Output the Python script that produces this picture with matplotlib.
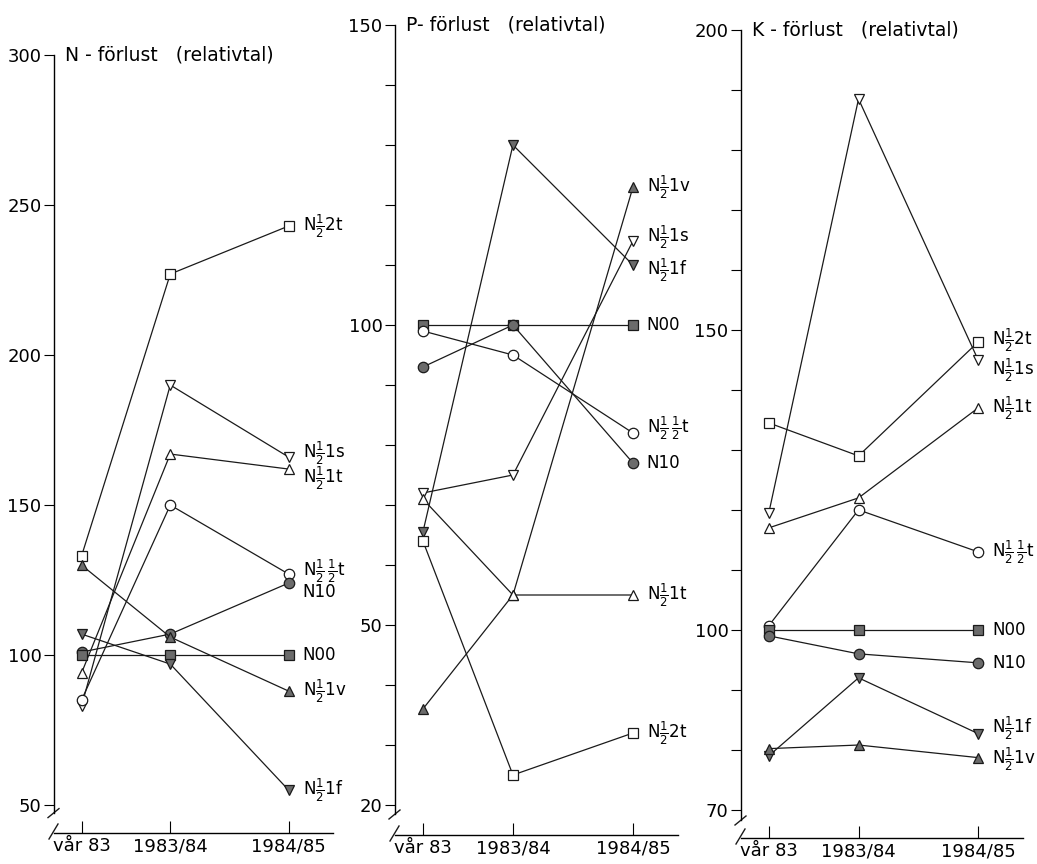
import matplotlib
matplotlib.use('Agg')
import matplotlib.pyplot as plt

plt.rcParams['font.family'] = ['DejaVu Sans']
plt.rcParams['mathtext.fontset'] = 'dejavusans'

# sampling occasions (spring 83 is placed closer to the first full season)
periods = ['vår 83', '1983/84', '1984/85']
period_x = [0, 3, 7]

# relative losses, N00 = 100
n_loss = {
    'N½2t': [133, 227, 243],
    'N½1s': [83, 190, 166],
    'N½1t': [94, 167, 162],
    'N½½t': [85, 150, 127],
    'N10': [101, 107, 124],
    'N00': [100, 100, 100],
    'N½1v': [130, 106, 88],
    'N½1f': [107, 97, 55],
}
p_loss = {
    'N½1v': [36, 55, 123],
    'N½1s': [72, 75, 114],
    'N½1f': [65.5, 130, 110],
    'N00': [100, 100, 100],
    'N½½t': [99, 95, 82],
    'N10': [93, 100, 77],
    'N½1t': [71, 55, 55],
    'N½2t': [64, 25, 32],
}
k_loss = {
    'N½2t': [134.5, 129, 148],
    'N½1s': [119.5, 188.5, 145],
    'N½1t': [117, 122, 137],
    'N½½t': [100.7, 120, 113],
    'N00': [100, 100, 100],
    'N10': [99, 96, 94.5],
    'N½1f': [79, 92, 82.7],
    'N½1v': [80.2, 80.8, 78.7],
}

labels = {
    'N00': 'N00',
    'N10': 'N10',
    'N½½t': r'N$\frac{1}{2}\,\frac{1}{2}$t',
    'N½1t': r'N$\frac{1}{2}$1t',
    'N½1s': r'N$\frac{1}{2}$1s',
    'N½1f': r'N$\frac{1}{2}$1f',
    'N½1v': r'N$\frac{1}{2}$1v',
    'N½2t': r'N$\frac{1}{2}$2t',
}
grey = '#6b6b6b'
markers = {
    'N00': ('s', grey),
    'N10': ('o', grey),
    'N½½t': ('o', 'white'),
    'N½1t': ('^', 'white'),
    'N½1s': ('v', 'white'),
    'N½1f': ('v', grey),
    'N½1v': ('^', grey),
    'N½2t': ('s', 'white'),
}

W, H = 1037, 864
fig = plt.figure(figsize=(W / 100, H / 100), dpi=100)

# (data, title, ylim, labelled ticks, step of unlabelled ticks, box in px, y-axis break, label shifts in px)
panels = [
    (n_loss, 'N - förlust   (relativtal)', (40.7, 300), [50, 100, 150, 200, 250, 300], None,
     (54, 55, 333, 833), 47.5, {'N½1t': 9, 'N10': 9, 'N½1s': -4, 'N½½t': -3}),
    (p_loss, 'P- förlust   (relativtal)', (15, 150), [20, 50, 100, 150], 10,
     (395, 25, 678, 835), 18.5, {'N½½t': -5, 'N½1s': -4, 'N½1f': 5}),
    (k_loss, 'K - förlust   (relativtal)', (65.3, 200), [70, 100, 150, 200], 10,
     (741, 30, 1023, 838), 68.3, {'N½1s': 10, 'N½2t': -2, 'N½1f': -5, 'N½1v': 2}),
]

for data, title, ylim, yticks, step, box, ybreak, shifts in panels:
    l, t, r, b = box
    w, h = r - l, b - t
    ax = fig.add_axes([l / W, 1 - b / H, w / W, h / H])
    ax.set_xlim(-(period_x[1] / 3) * 0.93, 8.5)
    ax.set_ylim(*ylim)
    ax.patch.set_visible(False)

    for name, vals in data.items():
        m, fc = markers[name]
        ax.plot(period_x, vals, color='#1a1a1a', lw=0.9, marker=m, ms=7.5,
                mfc=fc, mec='#1a1a1a', mew=0.9, clip_on=False, zorder=3)
        ax.annotate(labels[name], (period_x[-1], vals[-1]),
                    xytext=(10, -0.72 * shifts.get(name, 0)), textcoords='offset points',
                    ha='left', va='center', fontsize=12)

    ax.text(11 / w, 1, title, transform=ax.transAxes, ha='left', va='center', fontsize=13.5)

    for s in ('top', 'right'):
        ax.spines[s].set_visible(False)
    ax.spines['left'].set_bounds(ybreak, ylim[1])
    ax.spines['left'].set_linewidth(1.0)
    ax.spines['bottom'].set_linewidth(1.0)

    ax.set_yticks(yticks)
    if step:
        ax.set_yticks([v for v in range(yticks[0], yticks[-1] + 1, step) if v not in yticks], minor=True)
    ax.tick_params(axis='y', which='both', direction='out', length=7, width=0.8, labelsize=13, pad=2)
    ax.set_xticks(period_x, periods)
    ax.tick_params(axis='x', direction='in', length=9, width=0.8, labelsize=13, pad=3)

    # break marks on the value axis and at the start of the time axis
    yb = (ybreak - ylim[0]) / (ylim[1] - ylim[0])
    ax.plot([-6 / w, 5 / w], [yb - 5 / h, yb + 4 / h], transform=ax.transAxes,
            color='#1a1a1a', lw=1.0, clip_on=False)
    ax.plot([-5 / w, 4 / w], [-6 / h, 9 / h], transform=ax.transAxes,
            color='#1a1a1a', lw=1.0, clip_on=False)

fig.savefig('out.png', dpi=100)
